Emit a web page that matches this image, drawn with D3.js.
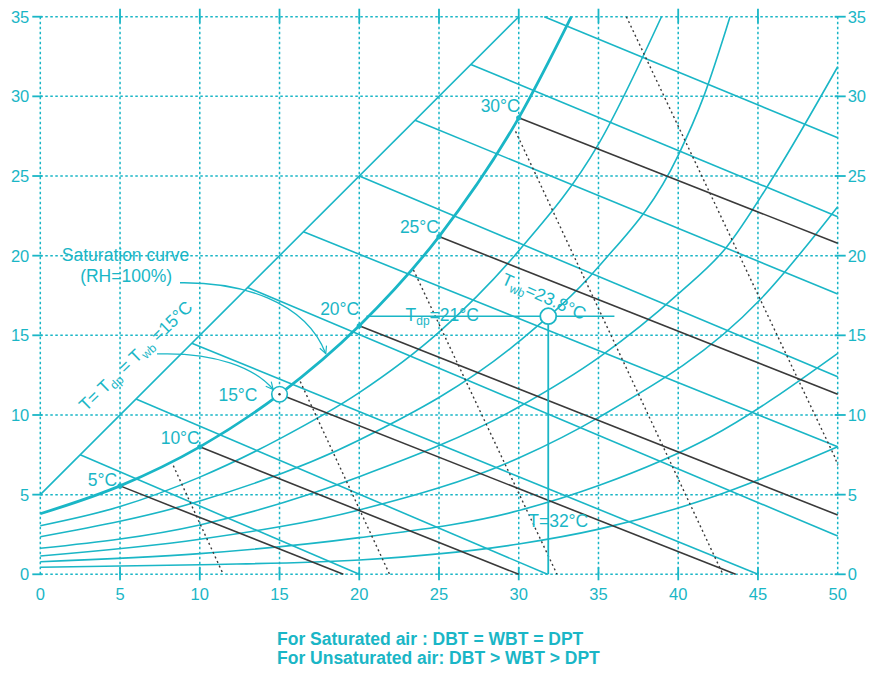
<!DOCTYPE html>
<html><head><meta charset="utf-8">
<script src="https://cdn.jsdelivr.net/npm/d3@7"></script>
<style>body{margin:0;background:#fff}</style>
</head><body>
<svg id="chart" width="880" height="675"></svg>
<script>
// ---------------- data ----------------
const xTicks = [0,5,10,15,20,25,30,35,40,45,50];
const yTicks = [0,5,10,15,20,25,30,35];
const saturation = [[0,3.8],[5,5.55],[10,8.0],[15,11.3],[20,15.6],[25,21.2],[30,28.65],[33.3,35]];
const rh80 = [[0,3.05],[5,4.25],[10,6.1],[15,8.5],[20,11.4],[25,15.2],[30,20.3],[35,27.0],[38.95,35]];
const rh60 = [[0,2.36],[10,4.6],[20,8.43],[30,14.6],[35,19.3],[40,26.3],[41.6,30],[43.25,35]];
const rh40 = [[0,1.63],[10,3.1],[20,6.13],[30,10.5],[35.1,13.66],[40,17.6],[43,20.5],[46,25],[50,31.86]];
const rh30 = [[0,1.15],[10,2.2],[20,4.04],[30,7.3],[35.1,9.9],[45.1,17.2],[50,23.07]];
const rh20 = [[0,0.79],[10,1.3],[20,2.3],[30,4.0],[35.1,5.6],[42,8.6],[50,13.87]];
const rh10 = [[0,0.44],[10,0.6],[20,0.9],[30,1.9],[35.1,2.85],[42,4.8],[50,8.0]];
const rhCurves = [rh80, rh60, rh40, rh30, rh20, rh10];
const diagonalLine = [[0,5],[30,35]];
const wetBulbLines = [
  [[2.5,7.5],[20,0]], [[6,11],[31.8,0]], [[9.5,14.5],[45,0]], [[13,18],[50,2.4]],
  [[16.5,21.5],[50,8.0]], [[20,25],[50,12.4]], [[23.5,28.5],[50,17.6]],
  [[27,32],[50,22.45]], [[31.6,35],[50,27.4]]
];
const satWetBulbLines = [
  [[5,5.55],[19,0]], [[10,8.0],[30,0]], [[15,11.3],[43.6,0]],
  [[20,15.6],[50,3.72]], [[25,21.2],[50,11.3]], [[30,28.65],[50,20.78]]
];
const dottedLines = [
  [[8.34,6.82],[11.47,0]], [[16.3,12.1],[21.9,0]], [[23.4,19.1],[32.4,0]],
  [[29.8,27.8],[42.8,0]], [[36.75,35],[49.8,7.4],[50,6.85]]
];
const satLabelTemps = [5,10,15,20,25,30];
const satLabelPoints = [[5,5.55],[10,8.0],[15,11.3],[20,15.6],[25,21.2],[30,28.65]];
const dewPointLine = [[20.45,16.2],[36,16.2]];
const statePoint = [31.85,16.2];
const dryBulbLine = [[31.85,16.2],[31.85,0]];
const notes = ["For Saturated air : DBT = WBT = DPT", "For Unsaturated air: DBT > WBT > DPT"];

// ---------------- drawing ----------------
const TEAL = "#1ab6c6", DARK = "#3a3a3a";
const FONT = "Liberation Sans, Arial, Helvetica, sans-serif";
const svg = d3.select("#chart").style("font-family", FONT);
const x = d3.scaleLinear().domain([0,50]).range([40.3,837.7]);
const y = d3.scaleLinear().domain([0,35]).range([574.3,16.7]);
const line = d3.line().x(d=>x(d[0])).y(d=>y(d[1]));
const curve = d3.line().x(d=>x(d[0])).y(d=>y(d[1])).curve(d3.curveMonotoneX);

const defs = svg.append("defs");
defs.append("marker").attr("id","arr").attr("viewBox","0 0 10 10").attr("refX",9).attr("refY",5)
  .attr("markerWidth",9).attr("markerHeight",9).attr("markerUnits","userSpaceOnUse").attr("orient","auto")
  .append("path").attr("d","M1,1 L9,5 L1,9").attr("fill","none").attr("stroke",TEAL).attr("stroke-width",1.3);

// grid
const g = svg.append("g");
g.selectAll(".vg").data(xTicks).join("line")
  .attr("x1",d=>x(d)).attr("x2",d=>x(d)).attr("y1",y(35)).attr("y2",y(0))
  .attr("stroke",TEAL).attr("stroke-width",1.5).attr("stroke-dasharray","2.5,2.5");
g.selectAll(".hg").data(yTicks).join("line")
  .attr("y1",d=>y(d)).attr("y2",d=>y(d)).attr("x1",x(0)).attr("x2",x(50))
  .attr("stroke",TEAL).attr("stroke-width",1.5).attr("stroke-dasharray","2.5,2.5");

// axes (ticks + labels)
const inner = xTicks.filter(d=>d>0 && d<50);
const ax = svg.append("g").attr("stroke",TEAL).attr("stroke-width",1.8);
ax.selectAll(".tt").data(inner).join("line").attr("x1",d=>x(d)).attr("x2",d=>x(d)).attr("y1",y(35)-8).attr("y2",y(35)+6);
ax.selectAll(".tb").data(inner).join("line").attr("x1",d=>x(d)).attr("x2",d=>x(d)).attr("y1",y(0)-7).attr("y2",y(0)+6);
ax.selectAll(".tl").data(yTicks).join("line").attr("y1",d=>y(d)).attr("y2",d=>y(d)).attr("x1",x(0)-8).attr("x2",x(0)+2);
ax.selectAll(".tr").data(yTicks).join("line").attr("y1",d=>y(d)).attr("y2",d=>y(d)).attr("x1",x(50)-3).attr("x2",x(50)+8);

const lab = svg.append("g").attr("fill",TEAL).attr("font-size",16.5);
lab.selectAll(".xl").data(xTicks).join("text").attr("x",d=>x(d)).attr("y",y(0)+26).attr("text-anchor","middle").text(d=>d);
lab.selectAll(".yl").data(yTicks).join("text").attr("x",x(0)-11).attr("y",d=>y(d)+6).attr("text-anchor","end").text(d=>d);
lab.selectAll(".yr").data(yTicks).join("text").attr("x",x(50)+10).attr("y",d=>y(d)+6).attr("text-anchor","start").text(d=>d);

// RH curves and process lines
const plot = svg.append("g").attr("fill","none");
plot.selectAll(".rh").data(rhCurves).join("path").attr("d",curve).attr("stroke",TEAL).attr("stroke-width",1.6);
plot.append("path").datum(saturation).attr("d",curve).attr("stroke",TEAL).attr("stroke-width",2.8);
plot.append("path").datum(diagonalLine).attr("d",line).attr("stroke",TEAL).attr("stroke-width",1.6);
plot.selectAll(".wb").data(wetBulbLines).join("path").attr("d",line).attr("stroke",TEAL).attr("stroke-width",1.6);
plot.selectAll(".dl").data(dottedLines).join("path").attr("d",line).attr("stroke",DARK).attr("stroke-width",1.4).attr("stroke-dasharray","2,3");
plot.selectAll(".bw").data(satWetBulbLines).join("path").attr("d",line).attr("stroke",DARK).attr("stroke-width",1.6);
plot.append("path").datum(dewPointLine).attr("d",line).attr("stroke",TEAL).attr("stroke-width",1.6);
plot.append("path").datum(dryBulbLine).attr("d",line).attr("stroke",TEAL).attr("stroke-width",1.8);

// saturation point dots
svg.selectAll(".sd").data(satLabelPoints.filter((d,i)=>satLabelTemps[i]!==15)).join("circle")
  .attr("cx",d=>x(d[0])).attr("cy",d=>y(d[1])).attr("r",2.6).attr("fill",TEAL);

// labels at saturation points
const satOff = {5:[-3,0],10:[0,-3],15:[-22,7],20:[0,-11],25:[0,-4],30:[1,-6]};
const ann = svg.append("g").attr("fill",TEAL).attr("font-size",17.5);
ann.selectAll(".sl").data(satLabelPoints).join("text")
  .attr("x",(d,i)=>x(d[0])+satOff[satLabelTemps[i]][0])
  .attr("y",(d,i)=>y(d[1])+satOff[satLabelTemps[i]][1])
  .attr("text-anchor","end").text((d,i)=>satLabelTemps[i]+"°C");

// Tdp label
const tdp = ann.append("text").attr("x",x(22.9)).attr("y",y(dewPointLine[0][1])+5);
tdp.append("tspan").text("T");
tdp.append("tspan").attr("font-size",12).attr("dy",4).text("dp");
tdp.append("tspan").attr("dy",-4).text("=21°C");

// Twb label (rotated along wet-bulb lines)
const twb = ann.append("text").attr("transform",`translate(${x(28.85)},${y(18.25)}) rotate(24)`);
twb.append("tspan").text("T");
twb.append("tspan").attr("font-size",12).attr("dy",4).text("wb");
twb.append("tspan").attr("dy",-4).text("=23.8°C");

// T=32 label
ann.append("text").attr("x",x(statePoint[0])-20).attr("y",y(3.0)).text("T=32°C");

// diagonal label
const dg = ann.append("text").attr("transform",`translate(${x(2.87)},${y(10.18)}) rotate(-44)`);
dg.append("tspan").text("T= T");
dg.append("tspan").attr("font-size",12).attr("dy",4).text("dp");
dg.append("tspan").attr("dy",-4).text(" = T");
dg.append("tspan").attr("font-size",12).attr("dy",4).text("wb");
dg.append("tspan").attr("dy",-4).text(" =15°C");

// saturation curve label
ann.append("text").attr("x",x(1.35)).attr("y",y(19.65)).text("Saturation curve");
ann.append("text").attr("x",x(2.5)).attr("y",y(18.37)).text("(RH=100%)");

// arrows
const arrowPath = p => `M${x(p[0][0])},${y(p[0][1])} C${x(p[1][0])},${y(p[1][1])} ${x(p[2][0])},${y(p[2][1])} ${x(p[3][0])},${y(p[3][1])}`;
const arrows = [
  [[8.76,18.3],[12.5,18.35],[16.6,17.2],[17.9,13.85]],
  [[7.32,13.83],[10.95,13.96],[13.46,12.95],[14.6,11.6]]
];
svg.append("g").selectAll("path").data(arrows).join("path").attr("d",arrowPath)
  .attr("fill","none").attr("stroke",TEAL).attr("stroke-width",1.3).attr("marker-end","url(#arr)");

// circles
svg.append("circle").attr("cx",x(15)).attr("cy",y(11.3)).attr("r",7.8).attr("fill","#fff").attr("stroke",TEAL).attr("stroke-width",1.6);
svg.append("circle").attr("cx",x(15)).attr("cy",y(11.3)).attr("r",1.2).attr("fill",DARK);
svg.append("circle").attr("cx",x(statePoint[0])).attr("cy",y(statePoint[1])).attr("r",8).attr("fill","#fff").attr("stroke",TEAL).attr("stroke-width",1.8);

// notes
svg.append("g").attr("fill",TEAL).attr("font-size",17.5).attr("font-weight","bold")
  .selectAll("text").data(notes).join("text").attr("x",277).attr("y",(d,i)=>645+i*19).text(d=>d);
</script>
</body></html>
